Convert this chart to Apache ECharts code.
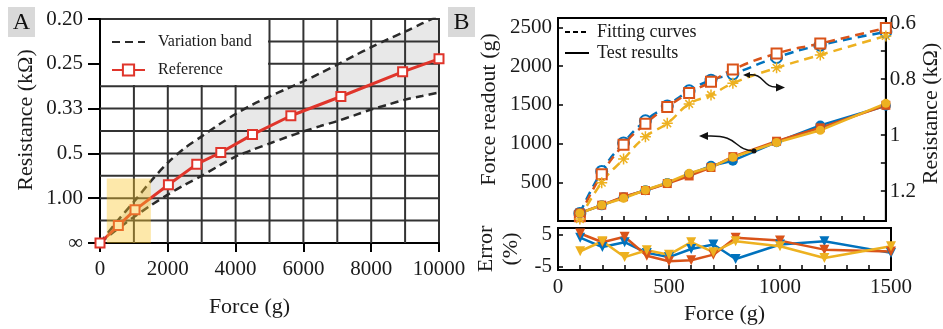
<!DOCTYPE html>
<html><head><meta charset="utf-8">
<script src="https://cdn.jsdelivr.net/npm/echarts@6/dist/echarts.min.js"></script>
<style>html,body{margin:0;padding:0;background:#fff}#c{width:943px;height:329px}</style>
</head><body><div id="c"></div>
<script>
// ---------- Panel A data ----------
const forceRef = [0, 541, 1033, 2018, 2854, 3563, 4498, 5630, 7106, 8927, 10000];
const conductanceRef = [0, 0.39, 0.74, 1.30, 1.76, 2.02, 2.42, 2.84, 3.27, 3.82, 4.11];
const bandForce = [0, 500, 1000, 1500, 2000, 2500, 3000, 3500, 4000, 4500, 5000, 5500, 6000, 6500, 7000, 7500, 8000, 8500, 9000, 9500, 10000];
const bandUpper = [0, 0.48, 0.92, 1.38, 1.79, 2.12, 2.38, 2.64, 2.88, 3.09, 3.27, 3.44, 3.61, 3.79, 3.98, 4.18, 4.37, 4.55, 4.72, 4.90, 5.07];
const bandLower = [0, 0.30, 0.58, 0.84, 1.08, 1.30, 1.50, 1.72, 1.93, 2.08, 2.22, 2.36, 2.49, 2.61, 2.72, 2.85, 2.98, 3.09, 3.20, 3.28, 3.36];
const resistanceTickLabels = ['∞', '1.00', '0.5', '0.33', '0.25', '0.20'];
const gridForceLines = [1000, 2000, 3000, 4000, 5000, 6000, 7000, 8000, 9000];
const gridConductanceLines = [0.5, 1, 1.5, 2, 2.5, 3, 3.5, 4, 4.5];
const highlightForce = [200, 1500];
const highlightConductance = [0, 1.44];

// ---------- Panel B data ----------
const forceB = [100, 200, 300, 400, 500, 600, 700, 800, 1000, 1200, 1500];
const readoutBlue = [104, 202, 308, 397, 490, 603, 713, 779, 1019, 1235, 1490];
const readoutOrange = [105, 205, 313, 394, 484, 582, 691, 832, 1031, 1204, 1495];
const readoutYellow = [100, 206, 294, 400, 494, 616, 697, 823, 1014, 1172, 1520];
const resistBlue = [1.28, 1.13, 1.028, 0.949, 0.896, 0.842, 0.804, 0.782, 0.723, 0.679, 0.632];
const resistOrange = [1.29, 1.14, 1.035, 0.960, 0.900, 0.850, 0.810, 0.766, 0.709, 0.673, 0.618];
const resistYellow = [1.30, 1.17, 1.086, 1.006, 0.958, 0.889, 0.857, 0.815, 0.760, 0.714, 0.646];
const errorBlue = [4.0, 1.1, 2.6, -0.7, -2.0, 0.5, 1.9, -2.6, 1.9, 2.9, -0.7];
const errorOrange = [5.3, 2.6, 4.3, -1.6, -3.3, -3.0, -1.25, 4.0, 3.1, 0.3, -0.3];
const errorYellow = [-0.2, 2.9, -2.0, 0.1, -1.25, 2.6, -0.5, 2.9, 1.35, -2.3, 1.35];
const readoutTicks = [500, 1000, 1500, 2000, 2500];
const resistLabelTicks = [0.6, 0.8, 1.0, 1.2];
const resistMinorTicks = [0.6, 0.7, 0.8, 0.9, 1.0, 1.1, 1.2];
const errorTicks = [-5, 5];

const FONT = '"Liberation Serif", "DejaVu Serif", serif';
const BLUE = '#0072BD', ORANGE = '#D95319', YELLOW = '#EDB120', RED = '#e0352b';
const pair = (xs, ys) => xs.map((x, i) => [x, ys[i]]);
const asterisk = 'path://M5 0L5 10M0 5L10 5M1.5 1.5L8.5 8.5M8.5 1.5L1.5 8.5';
const plain = v => String(v);
const LEGEND_BOX = {right: 268, bottom: 85};

const chart = echarts.init(document.getElementById('c'));
const axisTxt = {fontFamily: FONT, fontSize: 21, color: '#1a1a1a'};
const nameTxt = {fontFamily: FONT, fontSize: 22, color: '#1a1a1a'};
const hideSym = {opacity: 0};

const option = {
  animation: false,
  textStyle: {fontFamily: FONT},
  grid: [
    {left: 100, top: 19, width: 339, height: 224, show: true, borderColor: '#333', borderWidth: 2},
    {left: 558, top: 18, width: 333, height: 203, show: true, borderColor: '#000', borderWidth: 2},
    {left: 558, top: 228, width: 333, height: 42, show: true, borderColor: '#000', borderWidth: 2}
  ],
  xAxis: [
    {gridIndex: 0, type: 'value', min: 0, max: 10000, interval: 2000,
     axisLine: {onZero: false, lineStyle: {color: '#000', width: 2}},
     axisTick: {inside: false, length: 9, lineStyle: {color: '#000', width: 2}},
     axisLabel: Object.assign({margin: 16, formatter: plain}, axisTxt),
     splitLine: {show: false},
     name: 'Force (g)', nameLocation: 'middle', nameGap: 53,
     nameTextStyle: Object.assign({padding: [0, 40, 0, 0]}, nameTxt)},
    {gridIndex: 1, type: 'value', min: 0, max: 1500, interval: 100,
     axisLine: {onZero: false, lineStyle: {color: '#000', width: 2}},
     axisTick: {inside: true, length: 5, lineStyle: {color: '#000', width: 1.5}},
     axisLabel: {show: false}, splitLine: {show: false}},
    {gridIndex: 2, type: 'value', min: 0, max: 1500, interval: 100,
     axisLine: {onZero: false, lineStyle: {color: '#000', width: 2}},
     axisTick: {inside: true, length: 5, lineStyle: {color: '#000', width: 1.5}},
     axisLabel: Object.assign({margin: 7, formatter: v => (v % 500 === 0 ? String(v) : '')}, axisTxt),
     splitLine: {show: false},
     name: 'Force (g)', nameLocation: 'middle', nameGap: 33, nameTextStyle: nameTxt}
  ],
  yAxis: [
    {gridIndex: 0, type: 'value', min: 0, max: 5, interval: 1,
     axisLine: {show: true, onZero: false, lineStyle: {color: '#000', width: 2}},
     axisTick: {show: true, inside: false, length: 12, lineStyle: {color: '#000', width: 2}},
     axisLabel: Object.assign({margin: 17, formatter: v => resistanceTickLabels[Math.round(v)]}, axisTxt),
     splitLine: {show: false},
     name: 'Resistance (kΩ)', nameLocation: 'middle', nameGap: 63,
     nameTextStyle: Object.assign({padding: [0, 0, 0, 22]}, nameTxt)},
    {gridIndex: 1, type: 'value', min: 0, max: 2623,
     axisLine: {show: true, onZero: false, lineStyle: {color: '#000', width: 2}},
     axisTick: {show: true, inside: true, length: 5, customValues: readoutTicks, lineStyle: {color: '#000', width: 1.5}},
     axisLabel: Object.assign({margin: 6, customValues: readoutTicks, formatter: plain}, axisTxt),
     splitLine: {show: false},
     name: 'Force readout (g)', nameLocation: 'middle', nameGap: 58,
     nameTextStyle: Object.assign({padding: [0, 0, 0, 20]}, nameTxt)},
    {gridIndex: 1, type: 'value', position: 'right', inverse: true, min: 0.582, max: 1.307,
     axisLine: {show: true, onZero: false, lineStyle: {color: '#000', width: 2}},
     axisTick: {show: true, inside: true, length: 5, customValues: resistMinorTicks, lineStyle: {color: '#000', width: 1.5}},
     axisLabel: Object.assign({margin: 4, customValues: resistLabelTicks, formatter: plain}, axisTxt),
     splitLine: {show: false},
     name: 'Resistance (kΩ)', nameLocation: 'middle', nameGap: 32, nameRotate: 90,
     nameTextStyle: Object.assign({padding: [0, 0, 0, 12]}, nameTxt)},
    {gridIndex: 2, type: 'value', min: -6, max: 7,
     axisLine: {show: true, onZero: false, lineStyle: {color: '#000', width: 2}},
     axisTick: {show: true, inside: true, length: 5, customValues: errorTicks, lineStyle: {color: '#000', width: 1.5}},
     axisLabel: Object.assign({margin: 6, customValues: errorTicks, formatter: plain}, axisTxt),
     splitLine: {show: false},
     name: 'Error\n(%)', nameLocation: 'middle', nameGap: 34,
     nameTextStyle: Object.assign({lineHeight: 25}, nameTxt)}
  ],
  legend: [
    {left: 111, top: 34, orient: 'vertical', padding: 0,
     itemGap: 12, itemWidth: 33, itemHeight: 14, selectedMode: false,
     textStyle: {fontFamily: FONT, fontSize: 16, color: '#1a1a1a', padding: [0, 0, 0, 8]},
     data: [{name: 'Variation band', itemStyle: hideSym}, 'Reference']},
    {left: 564, top: 23, orient: 'vertical', padding: 0, itemGap: 3, itemWidth: 24, itemHeight: 14,
     selectedMode: false,
     textStyle: {fontFamily: FONT, fontSize: 18, color: '#1a1a1a', padding: [0, 0, 0, 3]},
     data: [{name: 'Fitting curves', itemStyle: hideSym}, {name: 'Test results', itemStyle: hideSym}]}
  ],
  series: [
    // Panel A band fill
    {type: 'custom', xAxisIndex: 0, yAxisIndex: 0, z: 1, silent: true, data: [[0, 0]],
     renderItem: (params, api) => {
       const cs = params.coordSys;
       const clampTop = p => [p[0], Math.max(p[1], cs.y)];
       const up = bandForce.map((f, i) => clampTop(api.coord([f, bandUpper[i]])));
       const lo = bandForce.map((f, i) => api.coord([f, bandLower[i]])).reverse();
       return {type: 'polygon', shape: {points: up.concat(lo)}, style: {fill: 'rgba(0,0,0,0.09)'}};
     }},
    // Panel A grid lines (own layer, kept out of the legend box)
    {type: 'custom', xAxisIndex: 0, yAxisIndex: 0, zlevel: 1, z: 1, silent: true, data: [[0, 0]],
     renderItem: (params, api) => {
       const cs = params.coordSys;
       const children = [];
       gridForceLines.forEach(f => {
         const p = api.coord([f, 0]);
         const y1 = p[0] < LEGEND_BOX.right ? LEGEND_BOX.bottom : cs.y;
         children.push({type: 'line', shape: {x1: p[0], y1: y1, x2: p[0], y2: cs.y + cs.height},
                        style: {stroke: '#333', lineWidth: 2}});
       });
       gridConductanceLines.forEach(c => {
         const p = api.coord([0, c]);
         const x1 = p[1] < LEGEND_BOX.bottom ? LEGEND_BOX.right : cs.x;
         children.push({type: 'line', shape: {x1: x1, y1: p[1], x2: cs.x + cs.width, y2: p[1]},
                        style: {stroke: '#333', lineWidth: 2}});
       });
       return {type: 'group', children};
     }},
    {name: 'Variation band', type: 'line', xAxisIndex: 0, yAxisIndex: 0, smooth: 0.3, zlevel: 1, z: 2,
     symbol: 'none', data: pair(bandForce, bandLower),
     lineStyle: {color: '#2a2a2a', width: 2.5, type: [8, 5]}, itemStyle: {color: '#2a2a2a'}},
    {name: 'Variation band', type: 'line', xAxisIndex: 0, yAxisIndex: 0, smooth: 0.3, zlevel: 1, z: 2,
     symbol: 'none', data: pair(bandForce, bandUpper),
     lineStyle: {color: '#2a2a2a', width: 2.5, type: [8, 5]}, itemStyle: {color: '#2a2a2a'}},
    {name: 'Reference', type: 'line', xAxisIndex: 0, yAxisIndex: 0, data: pair(forceRef, conductanceRef), zlevel: 1, z: 3,
     symbol: 'rect', symbolSize: 9, lineStyle: {color: RED, width: 3},
     itemStyle: {color: '#fff', borderColor: RED, borderWidth: 2}},
    {type: 'custom', xAxisIndex: 0, yAxisIndex: 0, zlevel: 1, z: 4, silent: true,
     data: [[highlightForce[0], highlightConductance[0], highlightForce[1], highlightConductance[1]]],
     renderItem: (params, api) => {
       const p0 = api.coord([api.value(0), api.value(1)]);
       const p1 = api.coord([api.value(2), api.value(3)]);
       return {type: 'rect', shape: {x: p0[0], y: p1[1], width: p1[0] - p0[0], height: p0[1] - p1[1]},
               style: {fill: 'rgba(250,197,42,0.4)'}};
     }},
    // Panel B legend proxies
    {name: 'Fitting curves', type: 'line', xAxisIndex: 1, yAxisIndex: 1, data: [], symbol: 'none',
     lineStyle: {color: '#000', width: 2, type: [5, 3]}, itemStyle: {color: '#000'}},
    {name: 'Test results', type: 'line', xAxisIndex: 1, yAxisIndex: 1, data: [], symbol: 'none',
     lineStyle: {color: '#000', width: 2}, itemStyle: {color: '#000'}},
    // Fitting curves (right axis)
    {type: 'line', xAxisIndex: 1, yAxisIndex: 2, smooth: true, data: pair(forceB, resistBlue),
     symbol: 'emptyCircle', symbolSize: 11, lineStyle: {color: BLUE, width: 2.5, type: [9, 6]},
     itemStyle: {color: BLUE, borderWidth: 1.5}},
    {type: 'line', xAxisIndex: 1, yAxisIndex: 2, smooth: true, data: pair(forceB, resistOrange),
     symbol: 'emptyRect', symbolSize: 10, lineStyle: {color: ORANGE, width: 2.5, type: [9, 6]},
     itemStyle: {color: ORANGE, borderWidth: 1.5}},
    {type: 'line', xAxisIndex: 1, yAxisIndex: 2, smooth: true, data: pair(forceB, resistYellow),
     symbol: asterisk, symbolSize: 11, lineStyle: {color: YELLOW, width: 2.5, type: [9, 6]},
     itemStyle: {color: YELLOW, borderColor: YELLOW, borderWidth: 1.5}},
    // Test results (left axis)
    {type: 'line', xAxisIndex: 1, yAxisIndex: 1, data: pair(forceB, readoutBlue),
     symbol: 'circle', symbolSize: 10, lineStyle: {color: BLUE, width: 2.5}, itemStyle: {color: BLUE}},
    {type: 'line', xAxisIndex: 1, yAxisIndex: 1, data: pair(forceB, readoutOrange),
     symbol: 'rect', symbolSize: 9, lineStyle: {color: ORANGE, width: 2.5}, itemStyle: {color: ORANGE}},
    {type: 'line', xAxisIndex: 1, yAxisIndex: 1, data: pair(forceB, readoutYellow),
     symbol: 'circle', symbolSize: 9, lineStyle: {color: YELLOW, width: 2.5}, itemStyle: {color: YELLOW}},
    // Error
    {type: 'line', xAxisIndex: 2, yAxisIndex: 3, data: pair(forceB, errorBlue),
     symbol: 'triangle', symbolRotate: 180, symbolSize: 10, lineStyle: {color: BLUE, width: 2.5}, itemStyle: {color: BLUE}},
    {type: 'line', xAxisIndex: 2, yAxisIndex: 3, data: pair(forceB, errorOrange),
     symbol: 'triangle', symbolRotate: 180, symbolSize: 10, lineStyle: {color: ORANGE, width: 2.5}, itemStyle: {color: ORANGE}},
    {type: 'line', xAxisIndex: 2, yAxisIndex: 3, data: pair(forceB, errorYellow),
     symbol: 'triangle', symbolRotate: 180, symbolSize: 10, lineStyle: {color: YELLOW, width: 2.5}, itemStyle: {color: YELLOW}}
  ],
  graphic: [
    {type: 'rect', shape: {x: 8, y: 7, width: 27, height: 30}, style: {fill: '#d9d9d9'}},
    {type: 'text', x: 21.5, y: 23, style: {text: 'A', font: '24px ' + FONT, fill: '#111', align: 'center', verticalAlign: 'middle'}},
    {type: 'rect', shape: {x: 448, y: 7, width: 27, height: 30}, style: {fill: '#d9d9d9'}},
    {type: 'text', x: 461.5, y: 23, style: {text: 'B', font: '24px ' + FONT, fill: '#111', align: 'center', verticalAlign: 'middle'}},
    {type: 'bezierCurve', z: 20, shape: {x1: 747, y1: 75, cpx1: 765, cpy1: 72, cpx2: 762, cpy2: 88, x2: 777, y2: 87},
     style: {stroke: '#111', lineWidth: 1.5, fill: 'none'}},
    {type: 'polygon', z: 20, shape: {points: [[785, 87.5], [776, 83.5], [776, 91.5]]}, style: {fill: '#111'}},
    {type: 'polygon', z: 20, shape: {points: [[743, 75], [750, 72], [750, 78]]}, style: {fill: '#111'}},
    {type: 'bezierCurve', z: 20, shape: {x1: 754, y1: 151, cpx1: 733, cpy1: 150, cpx2: 740, cpy2: 135, x2: 708, y2: 136},
     style: {stroke: '#111', lineWidth: 1.5, fill: 'none'}},
    {type: 'polygon', z: 20, shape: {points: [[699, 136], [708, 132], [708, 140]]}, style: {fill: '#111'}},
    {type: 'circle', z: 20, shape: {cx: 754, cy: 151, r: 2.5}, style: {fill: '#111'}}
  ]
};
chart.setOption(option);
</script>
</body></html>
